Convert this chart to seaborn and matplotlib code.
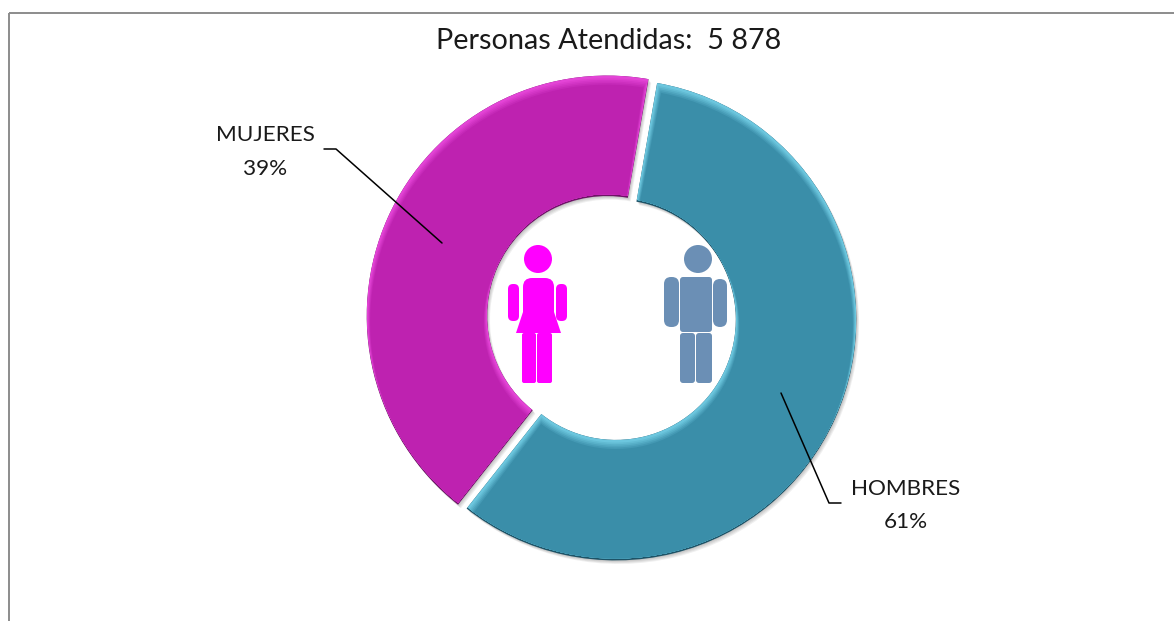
import matplotlib
matplotlib.use("Agg")
import matplotlib.pyplot as plt
from matplotlib.patches import Wedge, FancyBboxPatch, Circle, Polygon
import seaborn as sns

# printed labels
categories = ["HOMBRES", "MUJERES"]
printed_pct = [61, 39]
# slice sizes as drawn in the picture (the picture's slices are not quite 61/39)
drawn_share = [57.9, 42.1]
total_label = "Personas Atendidas:  5 878"

slice_colors = sns.color_palette(["#3a8ea9", "#be22b0"])
light_colors = ["#6cc6de", "#e344d6"]
dark_colors = ["#1d5367", "#6e1266"]

W, H = 1174, 621
sns.set_theme(style="white")
plt.rcParams["font.family"] = ["Lato", "DejaVu Sans"]

fig = plt.figure(figsize=(W / 100, H / 100), dpi=100)
ax = fig.add_axes([0, 0, 1, 1])


def py(y):
    # y in image pixels (from the top) to axes units
    return H - y


cx, cy, R = 611.5, py(318), 240.5
hole = 120
gap = 4.7

# explode is in data units here because the radius is given in pixels
wedges, _ = ax.pie(drawn_share, startangle=90 - 9.9, counterclock=False, colors=slice_colors,
                   center=(cx, cy), radius=R, frame=True,
                   explode=[gap, gap],
                   wedgeprops=dict(width=R - hole, linewidth=0))


def copy_wedge(w, color, dx=0, dy=0, inset=0, alpha=1, z=3, clip=None):
    r = w.r - inset
    da = inset / ((w.r + hole) / 2) * 57.3
    p = Wedge((w.center[0] + dx, w.center[1] + dy), r, w.theta1 + da, w.theta2 - da,
              width=w.width - 2 * inset, facecolor=color, edgecolor="none", alpha=alpha, zorder=z)
    ax.add_patch(p)
    if clip is not None:
        p.set_clip_path(clip)
    return p


for w, base, light, dark in zip(wedges, slice_colors, light_colors, dark_colors):
    w.set_zorder(3)
    w.set_facecolor(dark)
    # soft shadow under the slice
    for k in [1, 2, 3, 4]:
        copy_wedge(w, "#000000", dx=k * 0.7, dy=-k * 0.9, alpha=0.06, z=2)
    # bevel: up-facing edges show the light rim, down-facing ones the dark base
    lit = copy_wedge(w, light, dy=1.8, z=4, clip=w)
    blend = sns.blend_palette([light, base], 6)
    for i, c in enumerate(blend):
        copy_wedge(w, c, dy=-(0.6 + i * 1.0), inset=0.5 + i * 0.6, z=5 + i, clip=lit)

# leader lines
ax.plot([324, 336, 442], [py(149), py(149), py(243)], color="black", lw=1.1, zorder=20)
ax.plot([841, 829, 781], [py(503), py(503), py(393)], color="black", lw=1.1, zorder=20)

ax.text(265, py(135), categories[1], ha="center", va="center", fontsize=16.2, color="#1a1a1a", zorder=21)
ax.text(265, py(169), f"{printed_pct[1]}%", ha="center", va="center", fontsize=16.2, color="#1a1a1a", zorder=21)
ax.text(906, py(489), categories[0], ha="center", va="center", fontsize=16.2, color="#1a1a1a", zorder=21)
ax.text(906, py(522), f"{printed_pct[0]}%", ha="center", va="center", fontsize=16.2, color="#1a1a1a", zorder=21)
ax.text(609, py(41), total_label, ha="center", va="center", fontsize=20.8, color="#1a1a1a", zorder=21)


def body_part(x0, x1, y0, y1, color, rad=4):
    ax.add_patch(FancyBboxPatch((x0 + rad, py(y1) + rad), x1 - x0 - 2 * rad, y1 - y0 - 2 * rad,
                                boxstyle=f"round,pad={rad},rounding_size={rad}",
                                facecolor=color, edgecolor="none", zorder=15))


# woman icon
pink = "#ff00ff"
ax.add_patch(Circle((538, py(259)), 14, facecolor=pink, edgecolor="none", zorder=15))
body_part(523, 554, 278, 325, pink, rad=9)
body_part(508, 519, 284, 321, pink, rad=5)
body_part(556, 567, 284, 321, pink, rad=5)
ax.add_patch(Polygon([(523, py(312)), (554, py(312)), (561, py(333)), (516, py(333))],
                     facecolor=pink, edgecolor="none", zorder=15))
body_part(522, 536, 333, 383, pink, rad=2)
body_part(537, 552, 333, 383, pink, rad=2)

# man icon
steel = "#6b8fb5"
ax.add_patch(Circle((698, py(259)), 14, facecolor=steel, edgecolor="none", zorder=15))
body_part(680, 712, 277, 332, steel, rad=3)
body_part(664, 679, 277, 327, steel, rad=7)
body_part(713, 727, 279, 327, steel, rad=7)
body_part(680, 695, 333, 383, steel, rad=3)
body_part(696, 712, 333, 383, steel, rad=3)

# chart frame, cut by the picture on the right and at the bottom
ax.plot([8.5, W], [py(12.5), py(12.5)], color="#8c8c8c", lw=1.4, zorder=1, solid_capstyle="butt")
ax.plot([8.5, 8.5], [py(12.5), 0], color="#8c8c8c", lw=1.4, zorder=1, solid_capstyle="butt")

ax.set_xlim(0, W)
ax.set_ylim(0, H)
ax.set_aspect("auto")
ax.axis("off")

fig.savefig("out.png", dpi=100, facecolor="white")
